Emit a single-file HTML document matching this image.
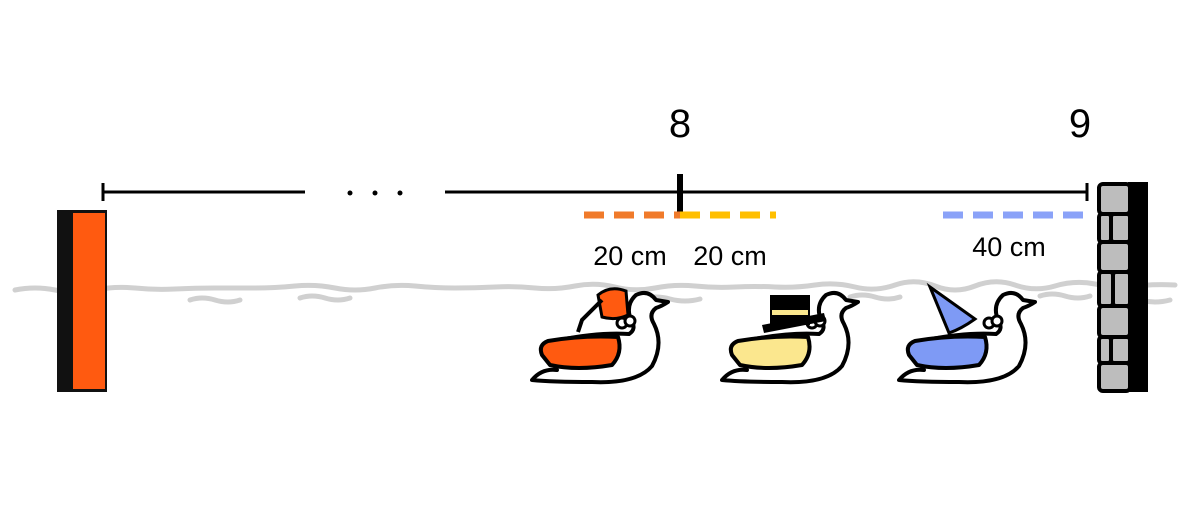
<!DOCTYPE html>
<html><head><meta charset="utf-8"><style>
html,body{margin:0;padding:0;background:#fff;width:1200px;height:518px;overflow:hidden}
svg{display:block}
text{font-family:"Liberation Sans",sans-serif}
</style></head><body>
<svg id="scene" width="1200" height="518" viewBox="0 0 1200 518">
  <g fill="none" stroke="#d0d0d0" stroke-width="5" stroke-linecap="round">
    <path d="M15,290 q20,-4 40,0 t40,0 t40,-2 t40,1 t40,-1 t40,0 t40,-2 t40,2 t40,0 t40,-2 t40,2 t40,-1 t40,1 t40,-2 t40,1 t40,1 t40,-2 t40,1 t40,0 t40,-2 t40,2 t40,-2 t40,1 t40,0 t40,-1 t40,1 t40,-2 t40,2 t40,-1"/>
    <path d="M190,300 q12,-4 25,0 t25,0 M300,298 q12,-4 25,0 t25,0 M640,299 q15,-4 30,0 t30,0 M850,297 q12,-4 25,0 t25,0 M1040,296 q12,-4 25,0 t25,0 M1110,300 q15,-4 30,0 t30,0"/>
  </g>
  <g>
    <rect x="57" y="210" width="50" height="182" fill="#111"/>
    <rect x="73" y="213" width="32" height="176" fill="#ff5a10"/>
  </g>
  <g stroke="#000" stroke-width="4">
    <rect x="1128" y="182" width="20" height="210" fill="#000" stroke="none"/>
    <rect x="1099" y="184" width="31" height="30" rx="4" fill="#bdbdbd"/>
    <rect x="1099" y="214" width="12" height="28" rx="3" fill="#bdbdbd"/>
    <rect x="1111" y="214" width="19" height="28" rx="3" fill="#bdbdbd"/>
    <rect x="1099" y="242" width="31" height="30" rx="4" fill="#bdbdbd"/>
    <rect x="1099" y="272" width="14" height="34" rx="3" fill="#bdbdbd"/>
    <rect x="1113" y="272" width="17" height="34" rx="3" fill="#bdbdbd"/>
    <rect x="1099" y="306" width="31" height="31" rx="4" fill="#bdbdbd"/>
    <rect x="1099" y="337" width="12" height="26" rx="3" fill="#bdbdbd"/>
    <rect x="1111" y="337" width="19" height="26" rx="3" fill="#bdbdbd"/>
    <rect x="1099" y="363" width="31" height="28" rx="4" fill="#bdbdbd"/>
  </g>
  <g id="axis"></g>
  <g id="segs"></g>
  <g id="ducks"></g>
</svg>
<script>
const tickValues = [8, 9];
const tickLabels = ["8", "9"];
const segmentLengthsCm = [20, 20, 40];
const segmentLabels = ["20 cm", "20 cm", "40 cm"];
const segmentColors = ["#f07a2a", "#ffbf00", "#8aa2f8"];

const NS = "http://www.w3.org/2000/svg";
function mk(tag, attrs, parent) {
  const e = document.createElementNS(NS, tag);
  for (const k in attrs) e.setAttribute(k, attrs[k]);
  parent.appendChild(e);
  return e;
}
const x8 = 680, x9 = 1087;
function xScale(v) { return x8 + (v - tickValues[0]) * (x9 - x8) / (tickValues[1] - tickValues[0]); }
// illustration is not to scale: near-8 and near-9 pixel-per-cm differ
const cmPxNear8 = 4.8, cmPxNear9 = 3.6;

const axis = document.getElementById("axis");
const lineY = 192;
let l1 = mk("line", {x1:103, y1:lineY, x2:305, y2:lineY, stroke:"#000", "stroke-width":3}, axis);


let l2 = mk("line", {x1:445, y1:lineY, x2:xScale(tickValues[1]), y2:lineY, stroke:"#000", "stroke-width":3}, axis);


[103, xScale(tickValues[1])].forEach(function (cx) {
  const c = mk("line", {x1:cx, y1:lineY-9, x2:cx, y2:lineY+9, stroke:"#000", "stroke-width":3}, axis);
  
  
});
[350, 375, 400].forEach(function (dx) {
  const d = mk("circle", {cx:dx, cy:lineY+1, r:2.5, fill:"#000"}, axis);
  
  
});
const tk = mk("line", {x1:xScale(tickValues[0]), y1:174, x2:xScale(tickValues[0]), y2:214, stroke:"#000", "stroke-width":6}, axis);


tickValues.forEach(function (v, i) {
  const t = mk("text", {x: xScale(v) - (i === 1 ? 7 : 0), y:137, "font-size":40, "text-anchor":"middle", fill:"#000"}, axis);
  t.textContent = tickLabels[i];
  
  
});

const segs = document.getElementById("segs");
const x0s = [
  xScale(tickValues[0]) - segmentLengthsCm[0] * cmPxNear8,
  xScale(tickValues[0]),
  xScale(tickValues[1]) - segmentLengthsCm[2] * cmPxNear9
];
const pxPerCm = [cmPxNear8, cmPxNear8, cmPxNear9];
const labelY = [265, 265, 256];
const labelDx = [-2, 2, -6];
segmentLengthsCm.forEach(function (len, i) {
  const x0 = x0s[i], x1 = x0 + len * pxPerCm[i];
  const s = mk("line", {x1:x0, y1:215, x2:x1, y2:215, stroke:segmentColors[i], "stroke-width":7, "stroke-dasharray":"20 10"}, segs);
  
  
  const t = mk("text", {x:(x0 + x1) / 2 + labelDx[i], y:labelY[i], "font-size":27, "text-anchor":"middle", fill:"#000"}, segs);
  t.textContent = segmentLabels[i];
  
  
});

const ducks = document.getElementById("ducks");
const duckX = [530, 720, 897];
const hats = ["fez", "top", "party"];
const wingColors = ["#ff5a10", "#fbe78e", "#7e9af5"];
duckX.forEach(function (dx, i) {
  const g = mk("g", {transform:"translate(" + dx + ",285)"}, ducks);
  
  
  mk("path", {d:"M2,95 q10,-12 25,-10 q-10,-15 2,-30 q40,-8 70,-6 q8,-5 2,-14 q-6,-15 5,-25 q12,-6 20,5 l12,2 q-6,4 -12,6 q-8,6 -2,16 q10,20 -2,42 q-15,18 -60,16 q-40,0 -60,-2 z", fill:"#fff", stroke:"#000", "stroke-width":4, "stroke-linejoin":"round"}, g);
  mk("path", {d:"M12,70 q-4,-10 6,-14 q35,-6 70,-4 q5,16 -6,28 q-35,6 -62,0 z", fill:wingColors[i], stroke:"#000", "stroke-width":4, "stroke-linejoin":"round"}, g);
  mk("circle", {cx:92, cy:38, r:5, fill:"#fff", stroke:"#000", "stroke-width":3}, g);
  mk("circle", {cx:100, cy:36, r:5, fill:"#fff", stroke:"#000", "stroke-width":3}, g);
  if (i === 0) {
    mk("path", {d:"M72,32 l-4,-22 q12,-10 28,-4 l2,24 q-12,6 -26,2 z", fill:"#ff5a10", stroke:"#000", "stroke-width":3}, g);
    mk("path", {d:"M72,15 l-20,20 l-4,12", fill:"none", stroke:"#000", "stroke-width":4}, g);
  } else if (i === 1) {
    mk("rect", {x:50, y:10, width:40, height:30, fill:"#000"}, g);
    mk("rect", {x:52, y:25, width:36, height:5, fill:"#fbe78e"}, g);
    mk("path", {d:"M42,40 l62,-12 l2,8 l-62,12 z", fill:"#000"}, g);
  } else {
    mk("path", {d:"M33,2 l45,32 q-14,10 -26,14 z", fill:"#7e9af5", stroke:"#000", "stroke-width":3}, g);
  }
});
</script>
</body></html>
